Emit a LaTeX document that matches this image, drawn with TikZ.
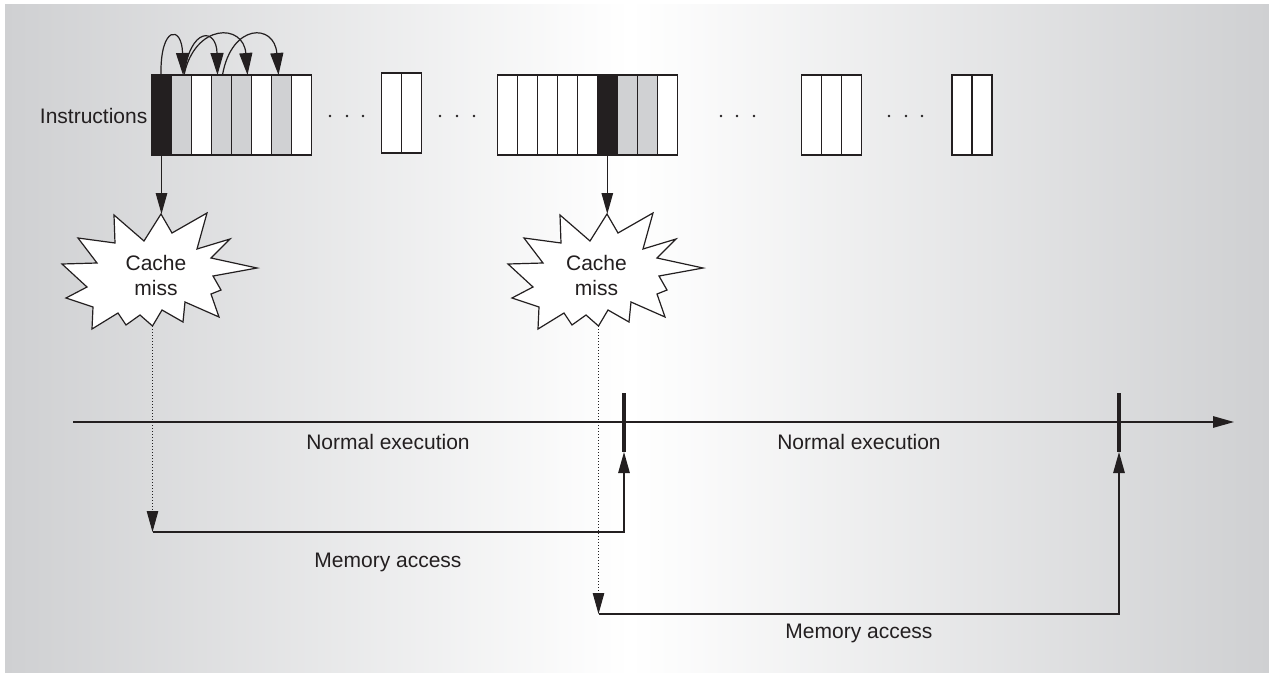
\documentclass[tikz,border=0pt]{standalone}
\usepackage{fontspec}
\setmainfont{Liberation Sans}
\usetikzlibrary{arrows.meta}
\definecolor{ink}{HTML}{231F20}
\definecolor{bggray}{RGB}{207,208,210}
\definecolor{cellgray}{RGB}{208,209,211}
\begin{document}
\begin{tikzpicture}[x=1pt,y=-1pt,
  font=\fontsize{21}{25}\selectfont,
  cell/.style={draw=ink, line width=1.4pt, minimum width=20pt, minimum height=80pt, inner sep=0pt, outer sep=0pt, fill=white},
  blk/.style={cell, fill=ink},
  gry/.style={cell, fill=cellgray},
  tip/.style={draw=ink, line width=1.2pt, -{Triangle[length=21pt,width=11.5pt]}},
  arctip/.style={draw=ink, line width=1.2pt, -{Triangle[length=22pt,width=13pt]}},
  dotline/.style={draw=ink, line width=0.9pt, dash pattern=on 1pt off 2pt, -{Triangle[length=21pt,width=11.5pt]}},
  burst/.style={draw=ink, line width=1.2pt, fill=white, line join=miter},
  tick/.style={fill=ink, draw=none, minimum width=3.6pt, minimum height=59pt, inner sep=0pt, outer sep=0pt},
  lbl/.style={text=ink, inner sep=0pt},
  dot/.style={fill=ink}]
\useasboundingbox (0,0) rectangle (1269,672);
% background
\fill[white] (0,0) rectangle (1269,672);
\shade[left color=bggray, right color=white] (5,4) rectangle (630,672);
\shade[left color=white, right color=bggray] (629.5,4) rectangle (1269,672);

% instruction cells
\foreach \i/\s in {1/blk,2/gry,3/cell,4/gry,5/gry,6/cell,7/gry,8/cell}
  \node[\s] (a\i) at ({141.5+20*\i},115) {};
\node[cell] (b1) at (391.7,113) {};
\node[cell] (b2) at (411.7,113) {};
\foreach \i/\s in {1/cell,2/cell,3/cell,4/cell,5/cell,6/blk,7/gry,8/gry,9/cell}
  \node[\s] (c\i) at ({487.3+20*\i},115) {};
\foreach \i in {1,2,3}
  \node[cell] (d\i) at ({791.5+20*\i},115) {};
\node[cell] (e1) at (962,115) {};
\node[cell] (e2) at (982,115) {};

\node[lbl, anchor=east] (instr) at (147.5,116) {Instructions};

% ellipsis dots
\foreach \x in {330,347,363,440,457,474,721,737,754,889,906,922}
  \fill[dot] (\x,116) circle[radius=1.4pt];

% dependency arcs
\draw[arctip] ([xshift=-0.5pt]a1.north) .. controls +(-1,-50) and +(-1,-50) .. ([xshift=1.5pt]a2.north);
\draw[arctip] ([xshift=2.5pt]a2.north) .. controls +(6,-48) and +(-1,-48) .. ([xshift=-4pt]a4.north);
\draw[arctip] ([xshift=2.5pt]a2.north) .. controls +(11,-52) and +(-4,-52) .. ([xshift=6pt]a5.north);
\draw[arctip] ([xshift=1pt]a4.north) .. controls +(9,-52) and +(-4,-52) .. ([xshift=-3pt]a7.north);

% starbursts
\foreach \dx/\n in {0/1,446/2}{
  \begin{scope}[xshift=\dx]
    \draw[burst] (161,214) -- (172,233) -- (207,213) -- (197,249) -- (230,239) -- (211,258)
      -- (257,268) -- (213,276) -- (221,290) -- (211,294) -- (219,317) -- (185,302)
      -- (183,322) -- (162,310) -- (152.5,326) -- (140,315) -- (126,325) -- (118,313)
      -- (92,329) -- (93,307) -- (66,298) -- (87,287) -- (62,264) -- (97,263)
      -- (78,238) -- (115,243) -- (114,215) -- (144,241) -- cycle;
    \coordinate (top\n) at (161,214);
    \coordinate (bot\n) at (152.5,326);
  \end{scope}
}
\node[lbl, align=center] (cm1) at (156,275) {Cache\\miss};
\node[lbl, align=center] (cm2) at (596.5,275) {Cache\\miss};

% arrows from instructions to cache misses
\draw[tip] (a1.south) -- (a1.south |- top1);
\draw[tip] (c6.south) -- (c6.south |- top2);

% timeline
\coordinate (tl0) at (73,422);
\coordinate (tl1) at (1234,422);
\draw[tip, line width=1.3pt] (tl0) -- (tl1);
\node[tick] (t1) at (624,422.5) {};
\node[tick] (t2) at (1119,422.5) {};

\node[lbl] (ne1) at (388,442) {Normal execution};
\node[lbl] (ne2) at (859,442) {Normal execution};

% memory accesses
\coordinate (m1) at (153,532);
\coordinate (m2) at (599,614);
\draw[dotline] (bot1) -- (bot1 |- m1);
\draw[tip] (bot1 |- m1) -- (t1.south |- m1) -- (t1.south);
\draw[dotline] (bot2) -- (bot2 |- m2);
\draw[tip] (bot2 |- m2) -- (t2.south |- m2) -- (t2.south);

\node[lbl] (ma1) at (388,562) {Memory access};
\node[lbl] (ma2) at (859,633) {Memory access};
\end{tikzpicture}
\end{document}
